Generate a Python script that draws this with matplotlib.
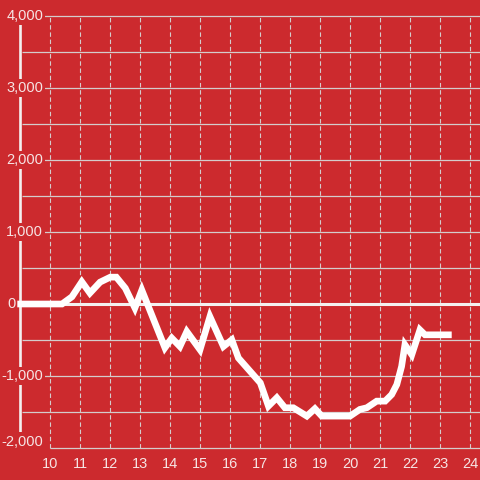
import numpy as np
import matplotlib
matplotlib.use("Agg")
import matplotlib.pyplot as plt

# values (hour of day, value)
hours = [8.9, 10.39, 10.72, 11.05, 11.32, 11.66, 12.0, 12.2, 12.5, 12.82, 13.05,
         13.82, 14.05, 14.32, 14.55, 14.99, 15.32, 15.77, 16.05, 16.27, 17.0,
         17.27, 17.55, 17.82, 18.1, 18.55, 18.82, 19.05, 19.99, 20.32, 20.55,
         20.88, 21.16, 21.38, 21.55, 21.71, 21.82, 22.05, 22.32, 22.49, 23.38]
values = [0, 0, 100, 308, 152, 304, 373, 373, 220, -55, 193,
          -608, -474, -590, -383, -635, -175, -590, -497, -750, -1095,
          -1418, -1302, -1441, -1441, -1557, -1454, -1557, -1557, -1464, -1441,
          -1349, -1349, -1257, -1119, -866, -566, -704, -359, -428, -428]

x_ticks = list(range(10, 25))
y_ticks = [-2000, -1000, 0, 1000, 2000, 3000, 4000]
grid_y = [-1500, -1000, -500, 500, 1000, 1500, 2000, 2500, 3000, 3500, 4000]

bg = '#cc2a2e'
grid_col = '#d4cccc'
text_col = '#f6e4e4'
font = ['Liberation Sans', 'DejaVu Sans']

fig = plt.figure(figsize=(4.8, 4.8), dpi=100, facecolor=bg)
ax = fig.add_axes([0, 0, 1, 1])
ax.set_facecolor(bg)
ax.set_xlim(8.323, 24.323)
ax.set_ylim(-2444.4, 4222.2)
ax.axis('off')

# horizontal grid
ax.hlines(grid_y, 9.06, 24.5, color=grid_col, lw=0.9, zorder=1)
ax.hlines(-2000, 10, 24.5, color=grid_col, lw=0.9, zorder=1)
# vertical dotted grid
for xt in x_ticks:
    ax.plot([xt, xt], [-2000, 4000], color=grid_col, lw=0.8,
            dashes=(4, 2.5), zorder=1)

# white bar on the left
ax.plot([9.0, 9.0], [-1830, 3890], color='#f4f0f0', lw=1.9,
        solid_capstyle='butt', zorder=2)

# y labels
for yt in y_ticks:
    yy = yt + 90 if yt == -2000 else yt
    xx = 8.857 if yt == 0 else 9.757
    ax.text(xx, yy, f'{yt:,}', ha='right', va='center', color=text_col,
            fontsize=10.5, family=font, zorder=3,
            bbox=dict(facecolor=bg, edgecolor='none', pad=1.5))
# x labels
for xt in x_ticks:
    ax.text(xt, -2220, str(xt), ha='center', va='center', color=text_col,
            fontsize=10.5, family=font, zorder=3)

# zero line
ax.hlines(0, 9.06, 24.5, color='#f4f0f0', lw=2.2, zorder=4)

# data line
ax.plot(hours, values, color='white', lw=4.8, solid_joinstyle='miter',
        solid_capstyle='butt', zorder=5)

fig.savefig('out.png', dpi=100, facecolor=bg)
